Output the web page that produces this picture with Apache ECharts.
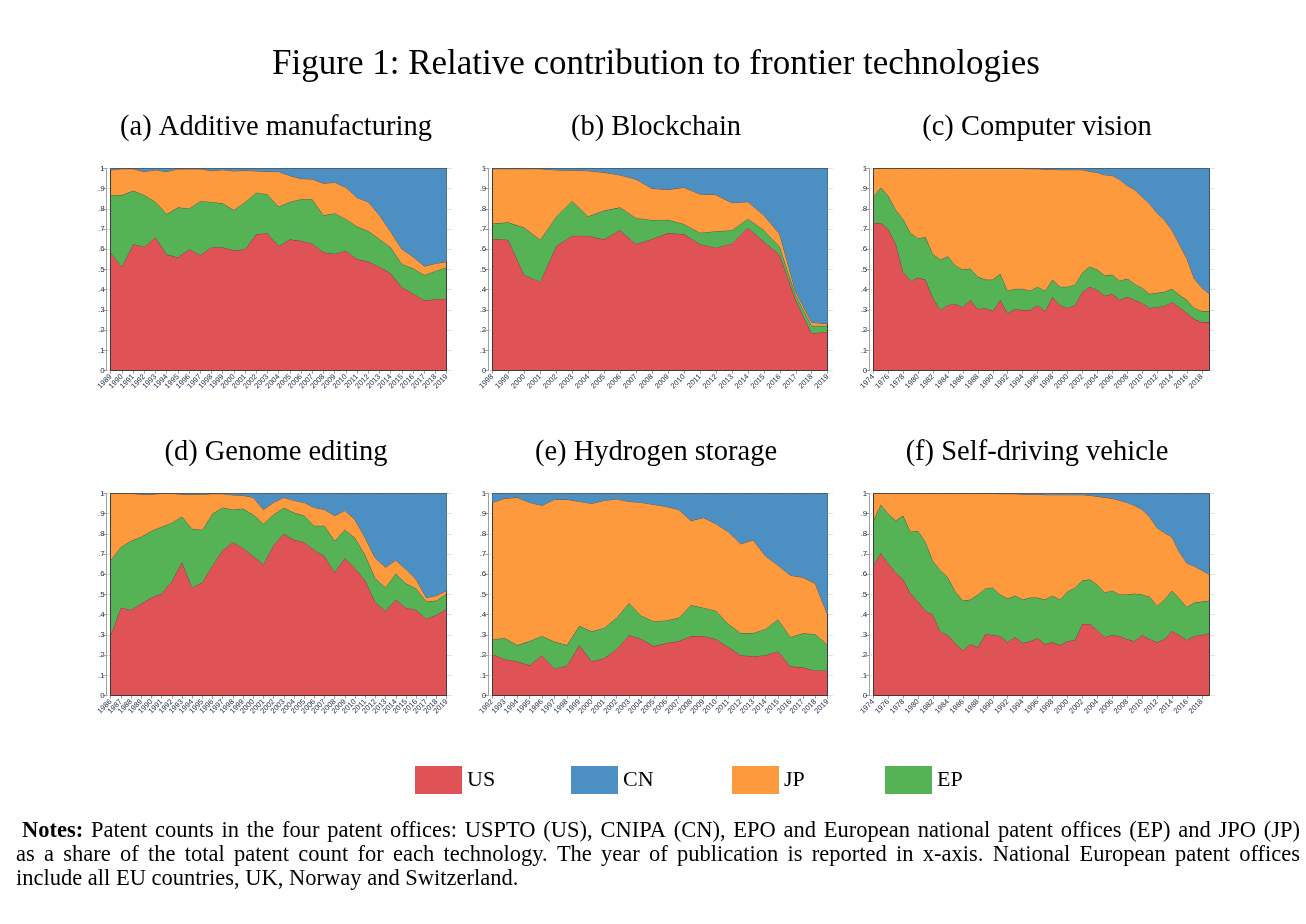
<!DOCTYPE html>
<html><head><meta charset="utf-8">
<script src="https://cdn.jsdelivr.net/npm/echarts@6/dist/echarts.min.js"></script>
<style>html,body{margin:0;padding:0;background:#fff}#c{width:1306px;height:924px}</style>
</head><body><div id="c"></div>
<script>
// ---------- DATA ----------
const seriesNames = ['US', 'EP', 'JP', 'CN'];
const legendOrder = ['US', 'CN', 'JP', 'EP'];
const yTickLabels = ['0', '.1', '.2', '.3', '.4', '.5', '.6', '.7', '.8', '.9', '1'];

// (a) Additive manufacturing
const yearsA = [1989,1990,1991,1992,1993,1994,1995,1996,1997,1998,1999,2000,2001,2002,2003,2004,2005,2006,2007,2008,2009,2010,2011,2012,2013,2014,2015,2016,2017,2018,2019];
const amUS = [.583,.514,.626,.613,.659,.575,.560,.600,.572,.610,.610,.595,.600,.675,.679,.616,.649,.642,.629,.585,.578,.593,.552,.539,.514,.481,.412,.382,.348,.353,.356];
const amEP = [.284,.354,.264,.255,.176,.199,.247,.202,.267,.224,.217,.199,.234,.206,.192,.195,.186,.205,.218,.183,.200,.157,.160,.151,.137,.129,.115,.124,.125,.140,.155];
const amJP = [.125,.130,.108,.116,.157,.210,.190,.195,.158,.154,.166,.193,.156,.106,.113,.173,.129,.102,.100,.158,.153,.156,.143,.144,.118,.077,.074,.057,.044,.037,.028];
const amCN = [.008,.002,.002,.016,.008,.016,.003,.003,.003,.012,.007,.013,.010,.013,.016,.016,.036,.051,.053,.074,.069,.094,.145,.166,.231,.313,.399,.437,.483,.470,.461];

// (b) Blockchain
const yearsB = [1998,1999,2000,2001,2002,2003,2004,2005,2006,2007,2008,2009,2010,2011,2012,2013,2014,2015,2016,2017,2018,2019];
const bcUS = [.652,.647,.473,.440,.616,.667,.667,.649,.695,.626,.651,.680,.675,.626,.608,.629,.708,.638,.572,.349,.185,.193];
const bcEP = [.075,.086,.234,.207,.145,.172,.096,.142,.112,.129,.094,.066,.050,.056,.081,.065,.043,.057,.041,.025,.037,.029];
const bcJP = [.271,.265,.291,.351,.231,.151,.225,.189,.160,.191,.156,.149,.181,.191,.181,.136,.084,.074,.062,.016,.017,.010];
const bcCN = [.002,.002,.002,.002,.008,.010,.012,.020,.033,.054,.099,.105,.094,.127,.130,.170,.165,.231,.325,.610,.761,.768];

// (c) Computer vision and (f) Self-driving vehicle share the same years
const yearsCF = [1974,1975,1976,1977,1978,1979,1980,1981,1982,1983,1984,1985,1986,1987,1988,1989,1990,1991,1992,1993,1994,1995,1996,1997,1998,1999,2000,2001,2002,2003,2004,2005,2006,2007,2008,2009,2010,2011,2012,2013,2014,2015,2016,2017,2018,2019];
const cvUS = [.73,.73,.70,.63,.49,.445,.46,.45,.36,.30, .325,.33,.315,.35,.305,.31,.295,.35,.285,.305, .30,.30,.325,.295,.365,.325,.31,.325,.39,.415, .40,.37,.38,.35,.365,.35,.335,.31,.315,.32, .34,.315,.285,.255,.24,.24];
const cvEP = [.13,.175,.165,.165,.26,.235,.195,.21,.215,.25, .24,.19,.185,.155,.16,.14,.155,.13,.11,.10, .105,.095,.09,.10,.085,.09,.105,.10,.095,.10, .10,.10,.095,.095,.09,.08,.075,.07,.07,.07, .065,.06,.065,.055,.055,.055];
const cvJP = [.14,.095,.135,.205,.25,.32,.345,.34,.425,.45, .435,.48,.499,.494,.534,.549,.549,.519,.604,.594, .594,.603,.583,.600,.545,.578,.578,.568,.508,.470, .480,.498,.490,.500,.460,.465,.450,.445,.395,.355, .29,.25,.205,.145,.115,.085];
const cvCN = [0,0,0,0,0,0,0,0,0,0, 0,0,.001,.001,.001,.001,.001,.001,.001,.001, .001,.002,.002,.005,.005,.007,.007,.007,.007,.015, .02,.032,.035,.055,.085,.105,.14,.175,.22,.255, .305,.375,.445,.545,.59,.62];

// (d) Genome editing
const yearsD = [1986,1987,1988,1989,1990,1991,1992,1993,1994,1995,1996,1997,1998,1999,2000,2001,2002,2003,2004,2005,2006,2007,2008,2009,2010,2011,2012,2013,2014,2015,2016,2017,2018,2019];
const geUS = [.30,.435,.425,.455,.485,.505,.565,.66,.535,.56, .645,.72,.76,.73,.69,.65,.745,.80,.77,.76, .72,.69,.61,.68,.63,.57,.46,.42,.475,.435, .425,.38,.40,.43];
const geEP = [.37,.30,.34,.33,.33,.33,.29,.225,.29,.26, .255,.21,.16,.195,.205,.20,.15,.13,.135,.13, .12,.15,.155,.14,.15,.125,.12,.115,.13,.12, .105,.085,.07,.075];
const geJP = [.33,.265,.235,.21,.18,.165,.145,.11,.17,.175, .098,.068,.072,.065,.085,.07,.06,.05,.06,.065, .09,.08,.125,.095,.09,.085,.10,.10,.065,.07, .045,.02,.025,.015];
const geCN = [0,0,0,.005,.005,0,0,.005,.005,.005, .002,.002,.008,.01,.02,.08,.045,.02,.035,.045, .07,.08,.11,.085,.13,.22,.32,.365,.33,.375, .425,.515,.505,.48];

// (e) Hydrogen storage
const yearsE = [1992,1993,1994,1995,1996,1997,1998,1999,2000,2001,2002,2003,2004,2005,2006,2007,2008,2009,2010,2011,2012,2013,2014,2015,2016,2017,2018,2019];
const hsUS = [.205,.18,.17,.15,.20,.135,.148,.25,.17,.185, .23,.30,.28,.245,.26,.27,.295,.295,.28,.24, .20,.195,.20,.22,.145,.14,.125,.125];
const hsEP = [.073,.105,.08,.12,.095,.133,.102,.095,.148,.15, .155,.158,.115,.123,.112,.115,.153,.14,.14,.115, .11,.115,.13,.158,.145,.168,.18,.125];
const hsJP = [.677,.69,.73,.685,.645,.702,.72,.615,.632,.63, .587,.502,.56,.577,.563,.535,.417,.445,.43,.455, .44,.46,.36,.267,.305,.277,.25,.15];
const hsCN = [.045,.025,.02,.045,.06,.03,.03,.04,.05,.035, .028,.04,.045,.055,.065,.08,.135,.12,.15,.19, .25,.23,.31,.355,.405,.415,.445,.60];

// (f) Self-driving vehicle
const sdUS = [.645,.705,.655,.61,.575,.505,.465,.42,.40,.315, .30,.26,.225,.255,.24,.305,.30,.295,.265,.29, .26,.27,.285,.255,.265,.25,.27,.275,.355,.355, .325,.29,.30,.295,.28,.27,.30,.28,.265,.28, .32,.30,.275,.295,.30,.31];
const sdEP = [.22,.24,.245,.255,.315,.305,.35,.34,.265,.305, .285,.255,.245,.22,.26,.225,.235,.205,.215,.205, .215,.215,.20,.22,.23,.225,.245,.26,.215,.22, .225,.22,.22,.205,.22,.235,.20,.21,.18,.195, .20,.18,.165,.165,.165,.16];
const sdJP = [.135,.055,.10,.135,.11,.19,.185,.24,.335,.38, .415,.485,.53,.525,.50,.47,.465,.498,.518,.503, .52,.51,.51,.518,.498,.518,.478,.458,.423,.415, .435,.47,.455,.465,.455,.435,.42,.395,.385,.33, .265,.23,.215,.18,.155,.13];
const sdCN = [0,0,0,0,0,0,0,0,0,0, 0,0,0,0,0,0,0,.002,.002,.002, .005,.005,.005,.007,.007,.007,.007,.007,.007,.01, .015,.02,.025,.035,.045,.06,.08,.115,.17,.195, .215,.29,.345,.36,.38,.40];

const panelTitles = ['(a) Additive manufacturing', '(b) Blockchain', '(c) Computer vision', '(d) Genome editing', '(e) Hydrogen storage', '(f) Self-driving vehicle'];
const mainTitle = 'Figure 1: Relative contribution to frontier technologies';
const notesBold = 'Notes:';
const notesLines = [
  'Notes: Patent counts in the four patent offices: USPTO (US), CNIPA (CN), EPO and European national patent offices (EP) and JPO (JP)',
  'as a share of the total patent count for each technology. The year of publication is reported in x-axis. National European patent offices',
  'include all EU countries, UK, Norway and Switzerland.'
];

// ---------- STYLE / LAYOUT ----------
const SERIF = "'Liberation Serif', 'DejaVu Serif', serif";
const SANS = "'Liberation Sans', Arial, sans-serif";
const COLORS = { US: '#df5356', CN: '#4b8fc3', JP: '#fd9a3e', EP: '#55b255' };
const OUTLINE = '#3e3a3a';
const H = 202.4;
const colLeft = [110.7, 492.3, 873.3];
const colWidth = [336, 335.4, 336];
const rowTop = [168.3, 493.3];
const colCenter = [271, 651, 1032];
const titleTop = [108, 433];
const SUB_FS = 28.5;

const panels = [
  { years: yearsA, data: { US: amUS, EP: amEP, JP: amJP, CN: amCN }, every: 0 },
  { years: yearsB, data: { US: bcUS, EP: bcEP, JP: bcJP, CN: bcCN }, every: 0 },
  { years: yearsCF, data: { US: cvUS, EP: cvEP, JP: cvJP, CN: cvCN }, every: 1 },
  { years: yearsD, data: { US: geUS, EP: geEP, JP: geJP, CN: geCN }, every: 0 },
  { years: yearsE, data: { US: hsUS, EP: hsEP, JP: hsJP, CN: hsCN }, every: 0 },
  { years: yearsCF, data: { US: sdUS, EP: sdEP, JP: sdJP, CN: sdCN }, every: 1 }
];

const grids = [], xAxes = [], yAxes = [], series = [];
const titles = [{
  text: mainTitle, left: 651, top: 42, textAlign: 'center',
  textStyle: { fontFamily: SERIF, fontSize: 35, fontWeight: 'normal', color: '#000' }
}];

panels.forEach((p, i) => {
  const col = i % 3, row = Math.floor(i / 3);
  const L = colLeft[col], W = colWidth[col], T = rowTop[row];
  titles.push({
    text: panelTitles[i], left: colCenter[col], top: titleTop[row], textAlign: 'center',
    textStyle: { fontFamily: SERIF, fontSize: SUB_FS, fontWeight: 'normal', color: '#000' }
  });
  // grid A: y axis + dotted gridlines (slightly wider than the data)
  const gA = grids.length;
  grids.push({ left: L - 4, top: T, width: W + 9, height: H });
  xAxes.push({ gridIndex: gA, type: 'value', min: 0, max: 1, show: false });
  yAxes.push({
    gridIndex: gA, type: 'value', min: 0, max: 1, interval: 0.1,
    axisLine: { show: true, lineStyle: { color: '#a0a0a0', width: 1 } },
    axisTick: { show: true, length: 4, lineStyle: { color: '#a0a0a0' } },
    axisLabel: { fontFamily: SANS, fontSize: 8, color: '#1e2b45', margin: 2,
      formatter: v => yTickLabels[Math.round(v * 10)] },
    splitLine: { show: true, lineStyle: { type: 'dotted', color: '#c4c4c4', width: 1 } }
  });
  // grid B: data area + x axis
  const gB = grids.length;
  grids.push({ left: L, top: T, width: W, height: H });
  xAxes.push({
    gridIndex: gB, type: 'category', data: p.years, boundaryGap: false, offset: 3,
    axisLine: { show: true, lineStyle: { color: '#a0a0a0', width: 1 } },
    axisTick: { show: true, length: 3, interval: p.every, lineStyle: { color: '#a0a0a0' } },
    axisLabel: { interval: p.every, rotate: 45, fontFamily: SANS, fontSize: 7.5, color: '#1e2b45', margin: 2 },
    splitLine: { show: false }
  });
  yAxes.push({ gridIndex: gB, type: 'value', min: 0, max: 1, show: false });
  seriesNames.forEach((n, k) => {
    const s = {
      name: n, type: 'line', xAxisIndex: gB, yAxisIndex: gB, stack: 'p' + i,
      data: p.data[n], symbol: 'none', silent: true,
      lineStyle: { color: OUTLINE, width: 0.8 },
      itemStyle: { color: COLORS[n] },
      areaStyle: { color: COLORS[n], opacity: 1 },
      z: 2 + k
    };
    if (n === 'CN') {
      s.markLine = {
        silent: true, symbol: 'none', label: { show: false },
        lineStyle: { color: OUTLINE, width: 1, type: 'solid' },
        data: [{ xAxis: 0 }, { xAxis: p.years.length - 1 }, { yAxis: 0 }]
      };
    }
    series.push(s);
  });
});

const legendX = [410, 566, 727, 880];
const legends = legendOrder.map((n, i) => ({
  data: [n], left: legendX[i], top: 761, orient: 'horizontal',
  icon: 'rect', itemWidth: 47, itemHeight: 28, selectedMode: false,
  textStyle: { fontFamily: SERIF, fontSize: 22, color: '#000' }
}));

// Notes: justified lines (layout only; the words are the note text)
const NOTE_FS = 22.5;
const noteY = [831, 855, 879];
const noteLeft = [22, 16, 16];
const noteRight = [1300, 1300, null];
const mctx = document.createElement('canvas').getContext('2d');
function wordWidth(w, bold) {
  mctx.font = (bold ? 'bold ' : '') + NOTE_FS + "px 'Liberation Serif'";
  return mctx.measureText(w).width;
}
const graphics = [];
notesLines.forEach((line, i) => {
  const words = line.split(' ');
  const widths = words.map((w, k) => wordWidth(w, i === 0 && k === 0 && w === notesBold));
  const space = wordWidth(' ', false);
  let gap = space;
  if (noteRight[i] != null) {
    const total = widths.reduce((a, b) => a + b, 0);
    gap = (noteRight[i] - noteLeft[i] - total) / (words.length - 1);
  }
  let x = noteLeft[i];
  words.forEach((w, k) => {
    const bold = i === 0 && k === 0 && w === notesBold;
    graphics.push({
      type: 'text', x: x, y: noteY[i], silent: true,
      style: { text: w, fontFamily: SERIF, fontSize: NOTE_FS, fontWeight: bold ? 'bold' : 'normal',
        fill: '#000', verticalAlign: 'middle', align: 'left' }
    });
    x += widths[k] + gap;
  });
});

const chart = echarts.init(document.getElementById('c'), null, { renderer: 'canvas' });
chart.setOption({
  animation: false,
  backgroundColor: '#fff',
  title: titles,
  legend: legends,
  grid: grids,
  xAxis: xAxes,
  yAxis: yAxes,
  series: series,
  graphic: graphics
});
</script></body></html>
